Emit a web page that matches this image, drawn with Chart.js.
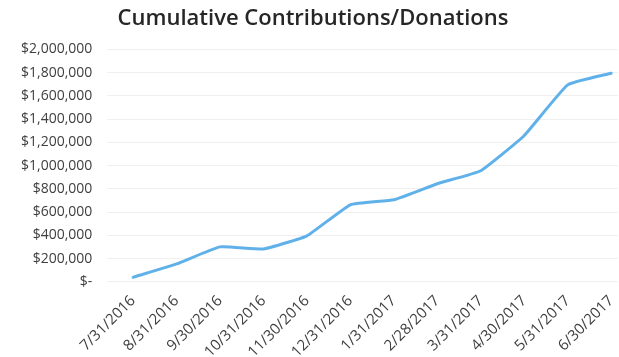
<!DOCTYPE html>
<html>
<head>
<meta charset="utf-8">
<script src="https://cdn.jsdelivr.net/npm/chart.js@4.4.0/dist/chart.umd.min.js"></script>
<style>
  html, body { margin: 0; padding: 0; background: #fff; }
  #frame { width: 619px; height: 357px; overflow: hidden; }
  #wrap { width: 626px; height: 363px; }
</style>
</head>
<body>
<div id="frame"><div id="wrap"><canvas id="donations_chart"></canvas></div></div>
<script>
const monthEnds = ['7/31/2016', '8/31/2016', '9/30/2016', '10/31/2016', '11/30/2016', '12/31/2016',
  '1/31/2017', '2/28/2017', '3/31/2017', '4/30/2017', '5/31/2017', '6/30/2017'];
const cumulative = [40000, 155000, 302000, 284000, 397000, 664000,
  707000, 845000, 957000, 1260000, 1695000, 1795000];
const yTicks = [0, 200000, 400000, 600000, 800000, 1000000, 1200000, 1400000, 1600000, 1800000, 2000000];

const points = cumulative.map((v, i) => ({ x: i, y: v }));

function money(v) {
  if (v === 0) return '$-';
  return '$' + v.toLocaleString('en-US');
}

new Chart('donations_chart', {
  type: 'line',
  data: {
    datasets: [{
      label: 'Cumulative',
      data: points,
      borderColor: '#60b1e9',
      borderWidth: 3,
      pointRadius: 0,
      tension: 0.12,
      borderJoinStyle: 'round',
      borderCapStyle: 'round'
    }]
  },
  options: {
    responsive: true,
    maintainAspectRatio: false,
    animation: false,
    // right padding stays under the axis' own label overhang, so it only moves the title
    layout: { padding: { left: 6, right: 6, top: 0, bottom: 0 } },
    plugins: {
      legend: { display: false },
      tooltip: { enabled: false },
      title: {
        display: true,
        text: 'Cumulative Contributions/Donations',
        color: '#262626',
        font: { family: 'Open Sans', size: 22, weight: '600' },
        padding: { top: 6, bottom: 17 }
      }
    },
    scales: {
      x: {
        type: 'linear',
        min: -0.41,
        max: 11.15,
        afterBuildTicks: scale => {
          scale.ticks = monthEnds.map((_, i) => ({ value: i }));
        },
        grid: { display: false },
        border: { display: false },
        ticks: {
          autoSkip: false,
          minRotation: 45,
          maxRotation: 45,
          padding: 2,
          color: '#404040',
          font: { family: 'Open Sans', size: 15 },
          callback: v => monthEnds[v]
        }
      },
      y: {
        min: 0,
        max: 2000000,
        afterBuildTicks: scale => {
          scale.ticks = yTicks.map(v => ({ value: v }));
        },
        grid: { color: '#efefef', lineWidth: 1 },
        border: { display: false },
        ticks: {
          padding: 15,
          color: '#404040',
          font: { family: 'Open Sans', size: 14 },
          callback: v => money(v)
        }
      }
    }
  }
});
</script>
</body>
</html>
